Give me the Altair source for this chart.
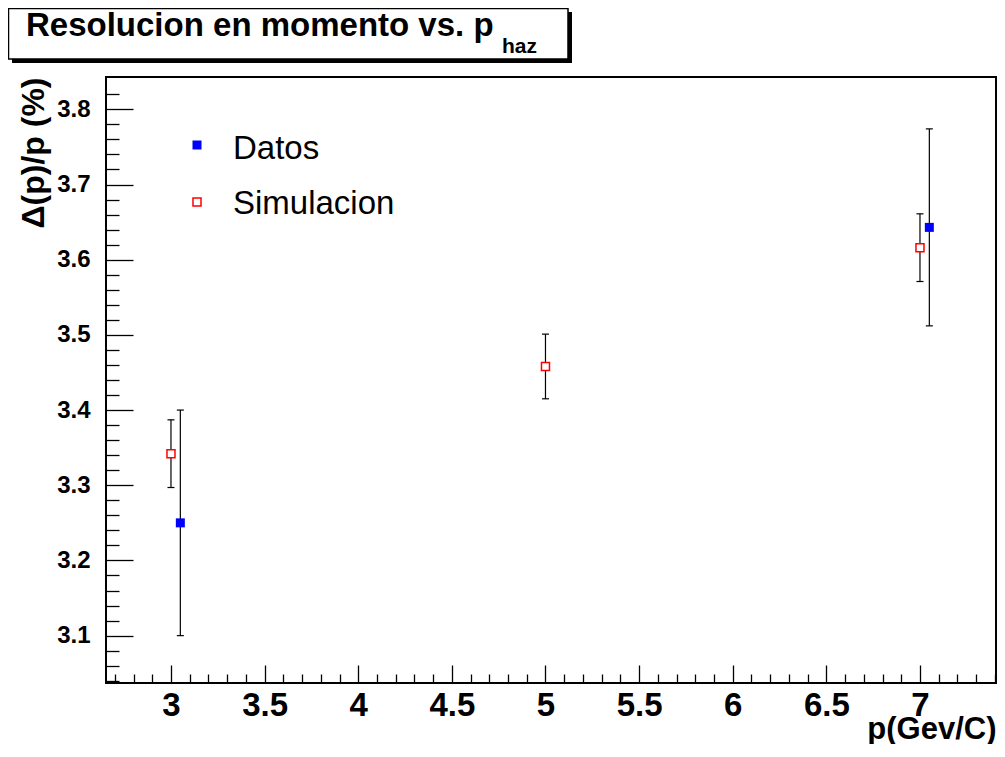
import altair as alt
import pandas as pd
import numpy as np

# ---------------- data ----------------
TITLE = "Resolucion en momento vs. p"
TITLE_SUB = "haz"
X_TITLE = "p(Gev/C)"
Y_TITLE = "\u0394(p)/p  (%)"
SERIES = ["Datos", "Simulacion"]

DATOS_X = [3.05, 7.05]
DATOS_Y = [3.25, 3.643]
DATOS_ERR = [0.15, 0.131]

SIM_X = [3.0, 5.0, 7.0]
SIM_Y = [3.342, 3.458, 3.616]
SIM_ERR = [0.045, 0.043, 0.045]

X_MAJOR = [3, 3.5, 4, 4.5, 5, 5.5, 6, 6.5, 7]
Y_MAJOR = [3.1, 3.2, 3.3, 3.4, 3.5, 3.6, 3.7, 3.8]
X_DOMAIN = [2.653, 7.406]
Y_DOMAIN = [3.037, 3.843]

X_MINOR = [round(v, 2) for v in np.arange(2.7, 7.41, 0.1)
           if not any(abs(round(v, 2) - m) < 1e-6 for m in X_MAJOR)]
Y_MINOR = [round(v, 2) for v in np.arange(3.04, 3.821, 0.02)
           if not any(abs(round(v, 2) - m) < 1e-6 for m in Y_MAJOR)]

rows = []
for x, y, e in zip(DATOS_X, DATOS_Y, DATOS_ERR):
    rows.append({"series": SERIES[0], "x": x, "y": y, "lo": y - e, "hi": y + e})
for x, y, e in zip(SIM_X, SIM_Y, SIM_ERR):
    rows.append({"series": SERIES[1], "x": x, "y": y, "lo": y - e, "hi": y + e})
df = pd.DataFrame(rows)

FONT = "Liberation Sans"
W, H = 890, 606

xs = alt.Scale(domain=X_DOMAIN, nice=False, zero=False)
ys = alt.Scale(domain=Y_DOMAIN, nice=False, zero=False)

major_x_axis = alt.Axis(
    orient="bottom", values=X_MAJOR, format=".1~f", tickSize=18, offset=-18,
    domain=False, grid=False, labelFont=FONT, labelFontSize=33,
    labelFontWeight="bold", labelPadding=6, labelColor="black",
    labelOverlap=False, labelFlush=False, tickColor="black", tickWidth=1.3,
    title=X_TITLE, titleFont=FONT, titleFontSize=31, titleFontWeight="bold",
    titleColor="black", titleX=890, titleY=73, titleAlign="right",
    titleBaseline="alphabetic",
)
major_y_axis = alt.Axis(
    orient="left", values=Y_MAJOR, format=".1f", tickSize=27, offset=-27,
    domain=False, grid=False, labelFont=FONT, labelFontSize=24,
    labelFontWeight="bold", labelPadding=16, labelColor="black",
    labelOverlap=False, labelFlush=False, tickColor="black", tickWidth=1.3,
    title=Y_TITLE, titleFont=FONT, titleFontSize=32, titleFontWeight="bold",
    titleColor="black", titleAngle=270, titleX=-100, titleY=0,
    titleAlign="right", titleBaseline="middle",
)
minor_x_axis = alt.Axis(
    orient="bottom", values=X_MINOR, tickSize=9, offset=-9, labels=False,
    domain=False, grid=False, title="", tickColor="black", tickWidth=1.3,
)
minor_y_axis = alt.Axis(
    orient="left", values=Y_MINOR, tickSize=13, offset=-13, labels=False,
    domain=False, grid=False, title="", tickColor="black", tickWidth=1.3,
)

rules = alt.Chart(df).mark_rule(color="black", strokeWidth=1.2).encode(
    x=alt.X("x:Q", scale=xs, axis=minor_x_axis),
    y=alt.Y("lo:Q", scale=ys, axis=minor_y_axis),
    y2="hi:Q",
)
caps = alt.Chart(df).transform_fold(["lo", "hi"], as_=["end", "yc"]).mark_rule(
    color="black", strokeWidth=1.2, xOffset=-3.5, x2Offset=3.5
).encode(
    x=alt.X("x:Q", scale=xs, axis=None),
    x2="x:Q",
    y=alt.Y("yc:Q", scale=ys, axis=None),
)
sim = alt.Chart(df[df.series == SERIES[1]]).mark_square(
    size=64, fill="white", stroke="red", strokeWidth=1.5, opacity=1
).encode(
    x=alt.X("x:Q", scale=xs, axis=major_x_axis),
    y=alt.Y("y:Q", scale=ys, axis=major_y_axis),
)
datos = alt.Chart(df[df.series == SERIES[0]]).mark_square(
    size=81, color="blue", opacity=1
).encode(
    x=alt.X("x:Q", scale=xs, axis=None),
    y=alt.Y("y:Q", scale=ys, axis=None),
)

# legend (manual, ROOT-style)
leg_d_sym = alt.Chart(pd.DataFrame({"s": [SERIES[0]]})).mark_square(
    size=81, color="blue", opacity=1
).encode(x=alt.value(91), y=alt.value(68))
leg_s_sym = alt.Chart(pd.DataFrame({"s": [SERIES[1]]})).mark_square(
    size=64, fill="white", stroke="red", strokeWidth=1.5, opacity=1
).encode(x=alt.value(91), y=alt.value(125))
leg_d_txt = alt.Chart(pd.DataFrame({"s": [SERIES[0]]})).mark_text(
    align="left", baseline="alphabetic", font=FONT, fontSize=33, color="black"
).encode(x=alt.value(127), y=alt.value(82), text="s:N")
leg_s_txt = alt.Chart(pd.DataFrame({"s": [SERIES[1]]})).mark_text(
    align="left", baseline="alphabetic", font=FONT, fontSize=33, color="black"
).encode(x=alt.value(127), y=alt.value(137), text="s:N")

# title box with shadow
one = pd.DataFrame({"t": [TITLE], "sub": [TITLE_SUB]})
shadow = alt.Chart(one).mark_rect(color="black").encode(
    x=alt.value(-94), x2=alt.value(466), y=alt.value(-65), y2=alt.value(-14)
)
box = alt.Chart(one).mark_rect(fill="white", stroke="black", strokeWidth=1.5).encode(
    x=alt.value(-97.5), x2=alt.value(462), y=alt.value(-68.5), y2=alt.value(-18)
)
title_txt = alt.Chart(one).mark_text(
    align="left", baseline="alphabetic", font=FONT, fontSize=33,
    fontWeight="bold", color="black"
).encode(x=alt.value(-80), y=alt.value(-41), text="t:N")
title_sub = alt.Chart(one).mark_text(
    align="left", baseline="alphabetic", font=FONT, fontSize=21,
    fontWeight="bold", color="black"
).encode(x=alt.value(396), y=alt.value(-24), text="sub:N")

chart = alt.layer(
    shadow, box, title_txt, title_sub,
    rules, caps, sim, datos,
    leg_d_sym, leg_s_sym, leg_d_txt, leg_s_txt,
).resolve_axis(
    x="independent", y="independent"
).properties(
    width=W, height=H,
    autosize=alt.AutoSizeParams(type="none"),
    padding={"left": 98, "top": 69, "right": 1, "bottom": 61},
    background="white",
).configure_view(
    stroke="black", strokeWidth=2
)

chart.save("out.html", embed_options={"renderer": "svg", "actions": False})
